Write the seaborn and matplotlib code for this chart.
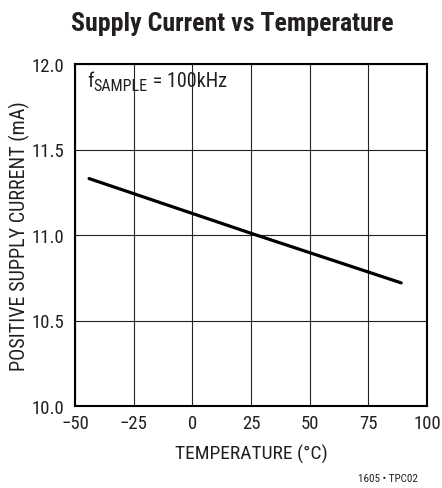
import matplotlib
matplotlib.use("Agg")
import matplotlib.pyplot as plt
from matplotlib.transforms import offset_copy
import seaborn as sns
import pandas as pd

temperature = [-44, 25, 89]
supply_current = [11.33, 11.01, 10.72]
x_ticks = [-50, -25, 0, 25, 50, 75, 100]
y_ticks = [10.0, 10.5, 11.0, 11.5, 12.0]
x_tick_labels = ["\u221250", "\u221225", "0", "25", "50", "75", "100"]
y_tick_labels = ["10.0", "10.5", "11.0", "11.5", "12.0"]

sns.set_theme(style="white")
fam = ["Roboto Condensed", "Liberation Sans", "DejaVu Sans"]
plt.rcParams["font.family"] = fam

INK = "#231f20"
df = pd.DataFrame({"T": temperature, "I": supply_current})

fig = plt.figure(figsize=(4.42, 4.89), dpi=100)
ax = fig.add_axes([75/442, 1-407/489, 352/442, 342/489])
sns.lineplot(data=df, x="T", y="I", ax=ax, color="black", linewidth=2.3)

ax.set_xlim(-50, 100)
ax.set_ylim(10, 12)
ax.set_xticks(x_ticks)
ax.set_xticklabels(x_tick_labels)
ax.set_yticks(y_ticks)
ax.set_yticklabels(y_tick_labels)
ax.grid(True, color="#222222", linewidth=0.8)
ax.tick_params(axis="x", length=0, labelsize=13.5, colors=INK, pad=6)
ax.tick_params(axis="y", length=0, labelsize=13.5, colors=INK, pad=8)
for s in ax.spines.values():
    s.set_color("black")
    s.set_linewidth(1.5)
ax.set_xlabel("TEMPERATURE (\u00b0C)", fontsize=14, color=INK, labelpad=8)
ax.set_ylabel("POSITIVE SUPPLY CURRENT (mA)", fontsize=14.5, color=INK, labelpad=1)

# annotation f_SAMPLE = 100kHz built from pieces
fig.canvas.draw()
r = fig.canvas.get_renderer()
ax0, ay0 = 0.035, 0.935
t1 = ax.text(ax0, ay0, "f", transform=ax.transAxes, fontsize=14.5,
             color=INK, va="baseline", ha="left")
ext = t1.get_window_extent(r)
tr2 = offset_copy(t1.get_transform(), fig=fig, x=ext.width, y=-4, units="dots")
t2 = ax.text(ax0, ay0, "SAMPLE", transform=tr2, fontsize=11.5,
             color=INK, va="baseline", ha="left")
ext2 = t2.get_window_extent(r)
tr3 = offset_copy(t1.get_transform(), fig=fig, x=ext.width + ext2.width, y=0, units="dots")
ax.text(ax0, ay0, " = 100kHz", transform=tr3, fontsize=14.5,
        color=INK, va="baseline", ha="left")

fig.text(232/442, 1-24/489, "Supply Current vs Temperature", fontsize=18.6,
         fontweight="bold", ha="center", va="center", color=INK)
fig.text(418/442, 1-479/489, "1605 \u2022 TPC02", fontsize=8, ha="right",
         va="center", color=INK)

fig.savefig("out.png", dpi=100)
